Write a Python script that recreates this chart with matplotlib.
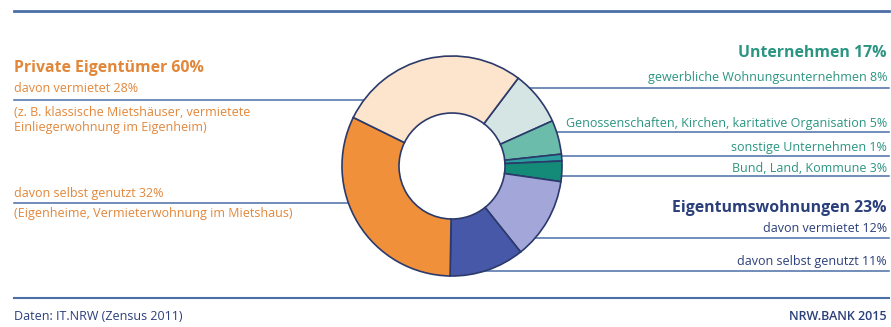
import matplotlib.pyplot as plt
import numpy as np

plt.rcParams['font.family'] = ['Open Sans', 'DejaVu Sans']

# Eigentümerstruktur der Wohnungen (Anteile in %), im Uhrzeigersinn ab "gewerbliche"
segments = ['gewerbliche Wohnungsunternehmen', 'Genossenschaften, Kirchen, karitative Organisation',
            'sonstige Unternehmen', 'Bund, Land, Kommune',
            'Eigentum vermietet', 'Eigentum selbst genutzt',
            'Privat selbst genutzt', 'Privat vermietet']
shares = [8, 5, 1, 3, 12, 11, 32, 28]
colors = ['#d5e5e4', '#6bbcaa', '#2a9e9e', '#148a78',
          '#a2a6d8', '#4858a8', '#f0903a', '#fde4cc']

W, H = 891, 327
cx, cy, R, r_in = 452, 166, 110, 53

fig = plt.figure(figsize=(W / 100, H / 100), dpi=100)
ax = fig.add_axes([0, 0, 1, 1])

ax.pie(shares, colors=colors, startangle=53, counterclock=False,
       center=(cx, H - cy), radius=R,
       wedgeprops=dict(width=R - r_in, edgecolor='#2b3a6b', linewidth=1.2))

ax.set_xlim(0, W)
ax.set_ylim(0, H)
ax.set_aspect('equal')
ax.axis('off')

rule = '#4a6fa5'
# obere und untere Trennlinie
ax.plot([14, 889], [H - 11, H - 11], color=rule, lw=2)
ax.plot([14, 889], [H - 298, H - 298], color=rule, lw=1.5)


def edge_x(y, side):
    dy = cy - y
    return cx + side * np.sqrt(R ** 2 - dy ** 2)


def leader(y, side):
    if side < 0:
        ax.plot([14, edge_x(y, -1)], [H - y, H - y], color=rule, lw=1.1, zorder=0)
    else:
        ax.plot([edge_x(y, 1), 889], [H - y, H - y], color=rule, lw=1.1, zorder=0)


orange = '#e2873a'
teal = '#2b9582'
navy = '#2b3f7a'
small = 9
big = 11.4

# linke Seite
ax.text(14, H - 68, 'Private Eigentümer 60%', color=orange, fontsize=big,
        fontweight='bold', va='center', ha='left')
ax.text(14, H - 88, 'davon vermietet 28%', color=orange, fontsize=small, va='center')
leader(100, -1)
ax.text(14, H - 112, '(z. B. klassische Mietshäuser, vermietete', color=orange, fontsize=small, va='center')
ax.text(14, H - 128, 'Einliegerwohnung im Eigenheim)', color=orange, fontsize=small, va='center')
ax.text(14, H - 193, 'davon selbst genutzt 32%', color=orange, fontsize=small, va='center')
leader(203, -1)
ax.text(14, H - 213, '(Eigenheime, Vermieterwohnung im Mietshaus)', color=orange, fontsize=small, va='center')

# rechte Seite
xr = 887
ax.text(xr, H - 53, 'Unternehmen 17%', color=teal, fontsize=big,
        fontweight='bold', va='center', ha='right')
ax.text(xr, H - 78, 'gewerbliche Wohnungsunternehmen 8%', color=teal, fontsize=small, va='center', ha='right')
leader(88, 1)
ax.text(xr, H - 124, 'Genossenschaften, Kirchen, karitative Organisation 5%', color=teal,
        fontsize=small, va='center', ha='right')
leader(132, 1)
ax.text(xr, H - 148, 'sonstige Unternehmen 1%', color=teal, fontsize=small, va='center', ha='right')
leader(156, 1)
ax.text(xr, H - 168, 'Bund, Land, Kommune 3%', color=teal, fontsize=small, va='center', ha='right')
leader(176, 1)
ax.text(xr, H - 208, 'Eigentumswohnungen 23%', color=navy, fontsize=big,
        fontweight='bold', va='center', ha='right')
ax.text(xr, H - 229, 'davon vermietet 12%', color=navy, fontsize=small, va='center', ha='right')
leader(238, 1)
ax.text(xr, H - 262, 'davon selbst genutzt 11%', color=navy, fontsize=small, va='center', ha='right')
leader(271, 1)

# Quelle
ax.text(14, H - 316, 'Daten: IT.NRW (Zensus 2011)', color=navy, fontsize=small, va='center')
ax.text(xr, H - 316, 'NRW.BANK 2015', color=navy, fontsize=small, fontweight='semibold',
        va='center', ha='right')

fig.savefig('out.png', dpi=100)
